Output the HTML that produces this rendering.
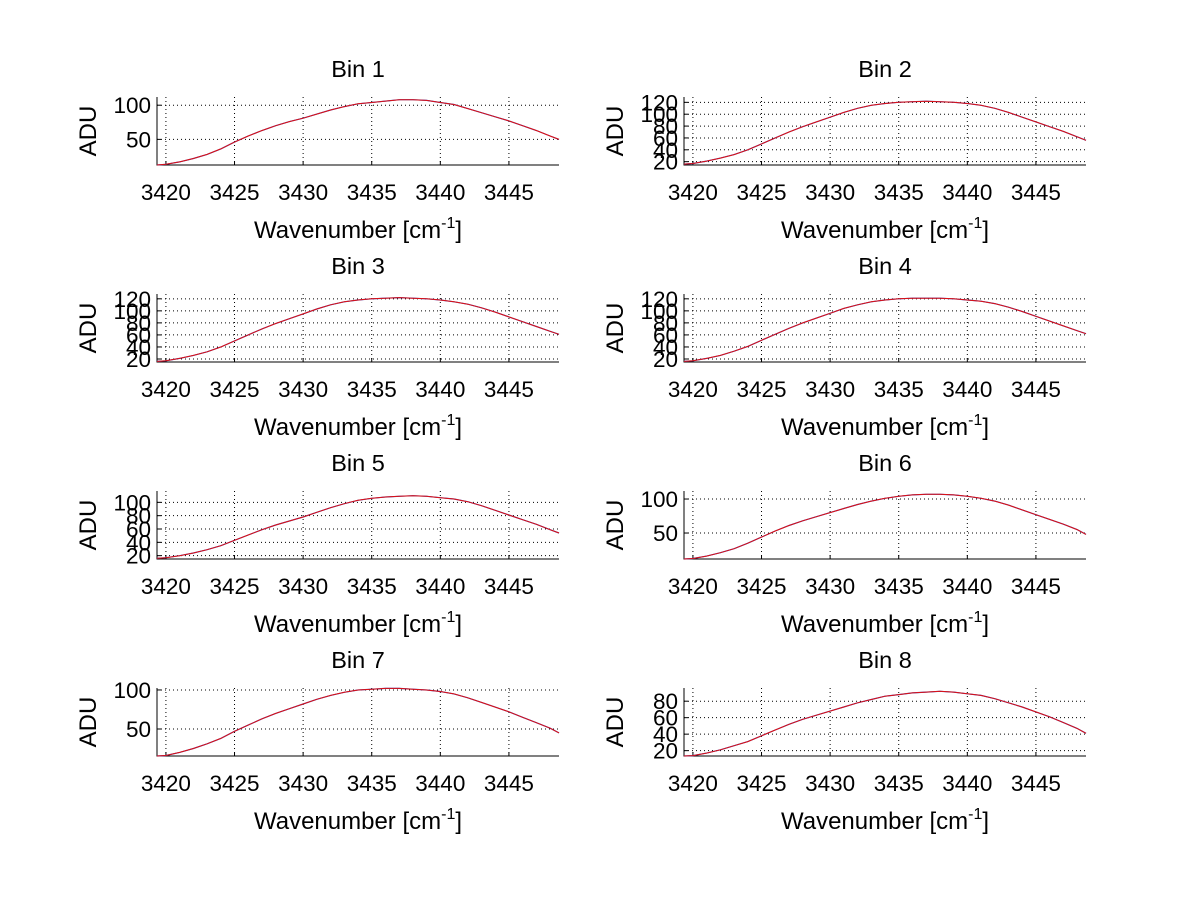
<!DOCTYPE html>
<html><head><meta charset="utf-8"><style>
body{margin:0;background:#fff;}
svg{display:block;font-family:"Liberation Sans",sans-serif;}
</style></head><body>
<svg id="fig" width="1200" height="901" viewBox="0 0 1200 901"></svg>
<script>
const xs=[3419.35,3420,3421,3422,3423,3424,3425,3426,3427,3428,3429,3430,3431,3432,3433,3434,3435,3436,3437,3438,3439,3440,3441,3442,3443,3444,3445,3446,3447,3448,3448.65];
const bin1=[12.5,13.5,17,22,28,36,46,55,63,70,76,81,87,93,98,102,104,106,108,108,107,104,101,95,89,83,77,70,63,55,50];
const bin2=[16,17,21,26,32,40,50,60,70,79,87,95,103,110,115,118,120,121,122,121,120,118,115,110,103,95,87,79,71,62,56];
const bin3=[16,17,21,26,32,40,50,60,70,79,87,95,103,110,115,118,120,121,122,121,120,118,115,111,105,98,90,82,74,66,61];
const bin4=[16,17,21,26,33,41,51,61,71,80,88,96,104,110,115,118,120,121,121,121,120,118,116,112,106,99,91,83,75,67,62];
const bin5=[16,17,20,24,29,35,43,51,59,66,72,78,85,92,98,103,106,108,109,110,109,107,105,101,95,88,81,74,67,59,54];
const bin6=[11.8,12.5,16,21,27,35,44,53,61,68,74,80,86,92,97,101,104,106,107,107,106,104,101,97,91,84,77,70,63,55,48];
const bin7=[15.4,16,20,25,31,38,47,55,63,70,76,82,88,93,97,100,101,102,102,101,100,98,95,90,84,78,72,65,58,51,45];
const bin8=[13.5,14,17,21,26,31,38,45,52,58,63,68,73,78,82,86,88,90,91,92,91,89,87,83,78,73,67,61,54,47,41];
const xTicks=[3420,3425,3430,3435,3440,3445];
const yTicks1=[50,100];
const yTicks2=[20,40,60,80,100,120];
const yTicks5=[20,40,60,80,100];
const yTicks8=[20,40,60,80];
const yRanges=[[12.5,112],[14.4,129],[15,128],[15,128],[15,117],[11.8,111.8],[15.4,102.5],[13.5,96]];
const series=[bin1,bin2,bin3,bin4,bin5,bin6,bin7,bin8];
const tickSets=[yTicks1,yTicks2,yTicks2,yTicks2,yTicks5,yTicks1,yTicks1,yTicks8];
const NS="http://www.w3.org/2000/svg";
const svg=document.getElementById('fig');
function mk(tag,attrs,parent){const e=document.createElementNS(NS,tag);for(const k in attrs)e.setAttribute(k,attrs[k]);parent.appendChild(e);return e;}
const X0=3419.35,X1=3448.65;
for(let i=0;i<8;i++){
  const col=i%2,row=Math.floor(i/2);
  const L=col?684:157,R=col?1086:559,T=97+row*197,B=165+row*197;
  const [y0,y1]=yRanges[i];
  const sx=v=>L+(v-X0)/(X1-X0)*(R-L);
  const sy=v=>B-(v-y0)/(y1-y0)*(B-T);
  const g=mk('g',{},svg);
  
  
  xTicks.forEach(t=>{
    const l=mk('line',{x1:sx(t),x2:sx(t),y1:T,y2:B,stroke:'#000','stroke-width':1,'stroke-dasharray':'1,3'},g);
    
    
    const tk=mk('line',{x1:sx(t),x2:sx(t),y1:B,y2:B-4,stroke:'#000'},g);
    
    
    const tx=mk('text',{x:sx(t),y:B+35,'text-anchor':'middle','font-size':22.5},g);
    tx.textContent=t;
    
    
  });
  tickSets[i].forEach(t=>{
    const l=mk('line',{x1:L,x2:R,y1:sy(t),y2:sy(t),stroke:'#000','stroke-width':1,'stroke-dasharray':'1,3'},g);
    
    
    const tk=mk('line',{x1:L,x2:L+4,y1:sy(t),y2:sy(t),stroke:'#000'},g);
    
    
    const tx=mk('text',{x:L-6,y:sy(t)+8,'text-anchor':'end','font-size':22.5},g);
    tx.textContent=t;
    
    
  });
  const ax=mk('path',{d:`M${L} ${T}V${B}H${R}`,fill:'none',stroke:'#000','stroke-width':1},g);
  
  
  const data=series[i];
  const pts=xs.map((x,j)=>sx(x).toFixed(1)+','+sy(data[j]).toFixed(1)).join(' ');
  const pb=mk('polyline',{points:pts,fill:'none',stroke:'#3040c0','stroke-width':1.2},g);
  
  
  const pr=mk('polyline',{points:pts,fill:'none',stroke:'#e01010','stroke-width':1},g);
  
  
  const ti=mk('text',{x:(L+R)/2,y:T-20,'text-anchor':'middle','font-size':23.5},g);
  ti.textContent='Bin '+(i+1);
  
  
  const xl=mk('text',{x:(L+R)/2,y:B+73,'text-anchor':'middle','font-size':24},g);
  xl.innerHTML='Wavenumber [cm<tspan dy="-10" font-size="16">-1</tspan><tspan dy="10">]</tspan>';
  
  
  const cy=(T+B)/2;
  const yl=mk('text',{x:0,y:0,'text-anchor':'middle','font-size':24,transform:`translate(${L-61},${cy}) rotate(-90)`},g);
  yl.textContent='ADU';
  
  
}
</script>
</body></html>
